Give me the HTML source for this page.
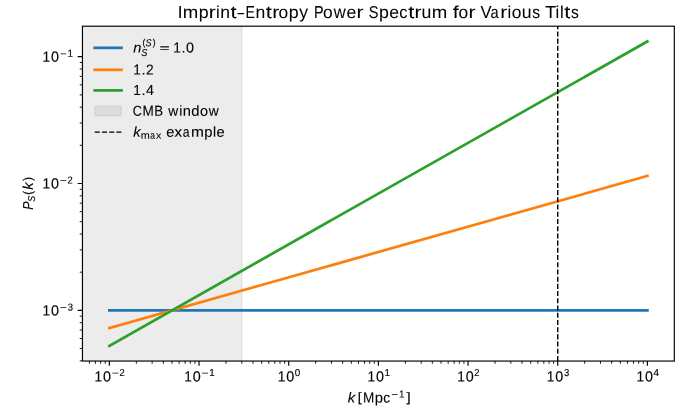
<!DOCTYPE html>
<html><head><meta charset="utf-8"><style>
html,body{margin:0;padding:0;background:#fff;}
svg{display:block;}
.t{opacity:0.999;}
text{font-family:"Liberation Sans", sans-serif;font-kerning:none;font-variant-ligatures:none;fill:#000;stroke:#000;white-space:pre;}
</style></head><body>
<svg width="698" height="419" viewBox="0 0 698 419">
<rect width="698" height="419" fill="#fff"/>
<g class="t">
<rect x="82.45" y="26.2" width="159.362" height="334.85" fill="#808080" fill-opacity="0.15"/>
<line x1="241.812" y1="26.2" x2="241.812" y2="361.05" stroke="#808080" stroke-opacity="0.15" stroke-width="1.361"/>
<line x1="109.352" y1="310.367" x2="647.398" y2="310.367" stroke="#1f77b4" stroke-width="2.722" stroke-linecap="square"/>
<line x1="109.352" y1="328.098" x2="647.398" y2="175.894" stroke="#ff7f0e" stroke-width="2.722" stroke-linecap="square"/>
<line x1="109.352" y1="345.83" x2="647.398" y2="41.42" stroke="#2ca02c" stroke-width="2.722" stroke-linecap="square"/>
<line x1="557.723" y1="361.05" x2="557.723" y2="26.2" stroke="#000" stroke-width="1.45" stroke-dasharray="5.036 2.178"/>
<path d="M109.352 361.05V365.814M199.027 361.05V365.814M288.701 361.05V365.814M378.375 361.05V365.814M468.049 361.05V365.814M557.723 361.05V365.814M647.398 361.05V365.814M82.45 310.367H77.686M82.45 183.53H77.686M82.45 56.693H77.686" stroke="#000" stroke-width="1.15" fill="none"/>
<path d="M89.458 361.05V363.772M95.462 361.05V363.772M100.662 361.05V363.772M105.249 361.05V363.772M136.347 361.05V363.772M152.138 361.05V363.772M163.342 361.05V363.772M172.032 361.05V363.772M179.132 361.05V363.772M185.136 361.05V363.772M190.336 361.05V363.772M194.923 361.05V363.772M226.021 361.05V363.772M241.812 361.05V363.772M253.016 361.05V363.772M261.706 361.05V363.772M268.807 361.05V363.772M274.81 361.05V363.772M280.01 361.05V363.772M284.597 361.05V363.772M315.695 361.05V363.772M331.486 361.05V363.772M342.69 361.05V363.772M351.38 361.05V363.772M358.481 361.05V363.772M364.484 361.05V363.772M369.685 361.05V363.772M374.272 361.05V363.772M405.37 361.05V363.772M421.16 361.05V363.772M432.364 361.05V363.772M441.055 361.05V363.772M448.155 361.05V363.772M454.159 361.05V363.772M459.359 361.05V363.772M463.946 361.05V363.772M495.044 361.05V363.772M510.835 361.05V363.772M522.039 361.05V363.772M530.729 361.05V363.772M537.829 361.05V363.772M543.833 361.05V363.772M549.033 361.05V363.772M553.62 361.05V363.772M584.718 361.05V363.772M600.509 361.05V363.772M611.713 361.05V363.772M620.403 361.05V363.772M627.504 361.05V363.772M633.507 361.05V363.772M638.707 361.05V363.772M643.294 361.05V363.772M82.45 360.841H79.728M82.45 348.549H79.728M82.45 338.506H79.728M82.45 330.015H79.728M82.45 322.659H79.728M82.45 316.171H79.728M82.45 272.186H79.728M82.45 249.851H79.728M82.45 234.004H79.728M82.45 221.712H79.728M82.45 211.669H79.728M82.45 203.178H79.728M82.45 195.822H79.728M82.45 189.334H79.728M82.45 145.349H79.728M82.45 123.014H79.728M82.45 107.167H79.728M82.45 94.875H79.728M82.45 84.832H79.728M82.45 76.34H79.728M82.45 68.985H79.728M82.45 62.497H79.728" stroke="#000" stroke-width="0.9" fill="none"/>
<rect x="82.45" y="26.2" width="591.85" height="334.85" fill="none" stroke="#000" stroke-width="1.17" stroke-linejoin="miter"/>
<g style="stroke-width:0.15px">
<text transform="translate(0,381.6) rotate(0.05,102.965,0)" font-size="14.855" font-style="normal"><tspan x="94.456" y="0.004" textLength="7.621" lengthAdjust="spacingAndGlyphs">1</tspan><tspan x="103.01" y="-0.004" textLength="7.98" lengthAdjust="spacingAndGlyphs">0</tspan></text>
<text transform="translate(111.641,376.623) rotate(0.05,3.609,0) scale(0.123,0.105)" font-size="100" font-style="normal" style="stroke-width:0px">−</text>
<text transform="translate(119.531,375.9) rotate(0.05,2.594,0) scale(0.924,1)" font-size="10.096" font-style="normal">2</text>
<text transform="translate(0,381.6) rotate(0.05,192.715,0)" font-size="14.855" font-style="normal"><tspan x="184.206" y="0.004" textLength="7.621" lengthAdjust="spacingAndGlyphs">1</tspan><tspan x="192.76" y="-0.004" textLength="7.98" lengthAdjust="spacingAndGlyphs">0</tspan></text>
<text transform="translate(201.391,376.623) rotate(0.05,3.609,0) scale(0.123,0.105)" font-size="100" font-style="normal" style="stroke-width:0px">−</text>
<text transform="translate(209.249,375.9) rotate(0.05,2.876,0) scale(0.976,1)" font-size="10.096" font-style="normal">1</text>
<text transform="translate(0,381.6) rotate(0.05,286.215,0)" font-size="14.855" font-style="normal"><tspan x="277.706" y="0.004" textLength="7.621" lengthAdjust="spacingAndGlyphs">1</tspan><tspan x="286.26" y="-0.004" textLength="7.98" lengthAdjust="spacingAndGlyphs">0</tspan></text>
<text transform="translate(294.862,375.9) rotate(0.05,2.763,0) scale(0.984,1)" font-size="10.096" font-style="normal">0</text>
<text transform="translate(0,381.6) rotate(0.05,375.965,0)" font-size="14.855" font-style="normal"><tspan x="367.456" y="0.004" textLength="7.621" lengthAdjust="spacingAndGlyphs">1</tspan><tspan x="376.01" y="-0.004" textLength="7.98" lengthAdjust="spacingAndGlyphs">0</tspan></text>
<text transform="translate(384.499,375.9) rotate(0.05,2.876,0) scale(0.976,1)" font-size="10.096" font-style="normal">1</text>
<text transform="translate(0,381.6) rotate(0.05,465.715,0)" font-size="14.855" font-style="normal"><tspan x="457.206" y="0.004" textLength="7.621" lengthAdjust="spacingAndGlyphs">1</tspan><tspan x="465.76" y="-0.004" textLength="7.98" lengthAdjust="spacingAndGlyphs">0</tspan></text>
<text transform="translate(474.281,375.9) rotate(0.05,2.594,0) scale(0.924,1)" font-size="10.096" font-style="normal">2</text>
<text transform="translate(0,381.6) rotate(0.05,555.215,0)" font-size="14.855" font-style="normal"><tspan x="546.706" y="0.004" textLength="7.621" lengthAdjust="spacingAndGlyphs">1</tspan><tspan x="555.26" y="-0.004" textLength="7.98" lengthAdjust="spacingAndGlyphs">0</tspan></text>
<text transform="translate(563.889,375.9) rotate(0.05,2.611,0) scale(0.94,1)" font-size="10.096" font-style="normal">3</text>
<text transform="translate(0,381.6) rotate(0.05,644.965,0)" font-size="14.855" font-style="normal"><tspan x="636.456" y="0.004" textLength="7.621" lengthAdjust="spacingAndGlyphs">1</tspan><tspan x="645.01" y="-0.004" textLength="7.98" lengthAdjust="spacingAndGlyphs">0</tspan></text>
<text transform="translate(653.522,375.9) rotate(0.05,2.728,0) scale(0.983,1)" font-size="10.096" font-style="normal">4</text>
<text transform="translate(0,61.75) rotate(0.05,50.965,0)" font-size="14.855" font-style="normal"><tspan x="42.456" y="0.004" textLength="7.621" lengthAdjust="spacingAndGlyphs">1</tspan><tspan x="51.01" y="-0.004" textLength="7.98" lengthAdjust="spacingAndGlyphs">0</tspan></text>
<text transform="translate(59.641,57.373) rotate(0.05,3.609,0) scale(0.123,0.105)" font-size="100" font-style="normal" style="stroke-width:0px">−</text>
<text transform="translate(67.499,56.75) rotate(0.05,2.876,0) scale(0.976,1)" font-size="10.096" font-style="normal">1</text>
<text transform="translate(0,188.5) rotate(0.05,50.965,0)" font-size="14.855" font-style="normal"><tspan x="42.456" y="0.004" textLength="7.621" lengthAdjust="spacingAndGlyphs">1</tspan><tspan x="51.01" y="-0.004" textLength="7.98" lengthAdjust="spacingAndGlyphs">0</tspan></text>
<text transform="translate(59.641,184.123) rotate(0.05,3.609,0) scale(0.123,0.105)" font-size="100" font-style="normal" style="stroke-width:0px">−</text>
<text transform="translate(67.531,183.5) rotate(0.05,2.594,0) scale(0.924,1)" font-size="10.096" font-style="normal">2</text>
<text transform="translate(0,315.5) rotate(0.05,50.965,0)" font-size="14.855" font-style="normal"><tspan x="42.456" y="0.004" textLength="7.621" lengthAdjust="spacingAndGlyphs">1</tspan><tspan x="51.01" y="-0.004" textLength="7.98" lengthAdjust="spacingAndGlyphs">0</tspan></text>
<text transform="translate(59.641,311.123) rotate(0.05,3.609,0) scale(0.123,0.105)" font-size="100" font-style="normal" style="stroke-width:0px">−</text>
<text transform="translate(67.639,310.5) rotate(0.05,2.611,0) scale(0.94,1)" font-size="10.096" font-style="normal">3</text>
</g>
<g style="stroke-width:0.1px">
<text transform="translate(347.755,402.4) rotate(0.05,4.12,0) scale(1.023,1)" font-size="14.422" font-style="italic">k</text>
<text transform="translate(357.764,401.478) rotate(0.05,2.361,0) scale(0.138,0.129)" font-size="100" font-style="normal" style="stroke-width:1.348px">[</text>
<text transform="translate(0,402.4) rotate(0.05,376.854,0)" font-size="14.422" font-style="normal"><tspan x="362.887" y="0.007" textLength="11.305" lengthAdjust="spacingAndGlyphs">M</tspan><tspan x="374.701" y="-0.002" textLength="8.236" lengthAdjust="spacingAndGlyphs">p</tspan><tspan x="383.239" y="-0.009" textLength="6.829" lengthAdjust="spacingAndGlyphs">c</tspan></text>
<text transform="translate(391.141,398.023) rotate(0.05,3.609,0) scale(0.123,0.105)" font-size="100" font-style="normal" style="stroke-width:0px">−</text>
<text transform="translate(398.999,397.4) rotate(0.05,2.876,0) scale(0.976,1)" font-size="10.096" font-style="normal">1</text>
<text transform="translate(406.382,401.478) rotate(0.05,1.618,0) scale(0.151,0.129)" font-size="100" font-style="normal" style="stroke-width:1.287px">]</text>
<g transform="rotate(-90)">
<text transform="translate(-209.681,33) rotate(0.05,4.281,0) scale(0.859,1)" font-size="14.422" font-style="italic">P</text>
<text transform="translate(-201.853,35) rotate(0.05,3.053,0) scale(0.883,1)" font-size="10.096" font-style="italic">S</text>
<text transform="translate(-194.702,31.889) rotate(0.05,2.202,0) scale(0.113,0.126)" font-size="100" font-style="normal" style="stroke-width:1.505px">(</text>
<text transform="translate(-189.745,33) rotate(0.05,4.12,0) scale(1.023,1)" font-size="14.422" font-style="italic">k</text>
<text transform="translate(-180.816,31.889) rotate(0.05,1.566,0) scale(0.113,0.126)" font-size="100" font-style="normal" style="stroke-width:1.505px">)</text>
</g>
</g>
<g style="stroke-width:0.05px">
<text transform="translate(0,18) rotate(0.05,378.754,0)" font-size="17.307" font-style="normal"><tspan x="177.656" y="0.173" textLength="4.799" lengthAdjust="spacingAndGlyphs">I</tspan><tspan x="182.715" y="0.164" textLength="15.502" lengthAdjust="spacingAndGlyphs">m</tspan><tspan x="198.726" y="0.153" textLength="9.883" lengthAdjust="spacingAndGlyphs">p</tspan><tspan x="208.856" y="0.145" textLength="6.969" lengthAdjust="spacingAndGlyphs">r</tspan><tspan x="215.904" y="0.14" textLength="3.709" lengthAdjust="spacingAndGlyphs">i</tspan><tspan x="220.337" y="0.134" textLength="9.794" lengthAdjust="spacingAndGlyphs">n</tspan><tspan x="230.489" y="0.127" textLength="6.065" lengthAdjust="spacingAndGlyphs">t</tspan><tspan x="237.587" y="0.12" textLength="6.577" lengthAdjust="spacingAndGlyphs">–</tspan><tspan x="245.403" y="0.112" textLength="9.442" lengthAdjust="spacingAndGlyphs">E</tspan><tspan x="255.602" y="0.103" textLength="9.794" lengthAdjust="spacingAndGlyphs">n</tspan><tspan x="265.754" y="0.096" textLength="6.065" lengthAdjust="spacingAndGlyphs">t</tspan><tspan x="272.148" y="0.09" textLength="6.969" lengthAdjust="spacingAndGlyphs">r</tspan><tspan x="278.602" y="0.083" textLength="9.657" lengthAdjust="spacingAndGlyphs">o</tspan><tspan x="288.768" y="0.074" textLength="9.883" lengthAdjust="spacingAndGlyphs">p</tspan><tspan x="299.248" y="0.066" textLength="8.77" lengthAdjust="spacingAndGlyphs">y</tspan><tspan x="308.476" y="0.061"> </tspan><tspan x="314.089" y="0.052" textLength="9.635" lengthAdjust="spacingAndGlyphs">P</tspan><tspan x="323.105" y="0.044" textLength="9.657" lengthAdjust="spacingAndGlyphs">o</tspan><tspan x="333.643" y="0.034" textLength="11.922" lengthAdjust="spacingAndGlyphs">w</tspan><tspan x="346.452" y="0.024" textLength="9.812" lengthAdjust="spacingAndGlyphs">e</tspan><tspan x="356.449" y="0.016" textLength="6.969" lengthAdjust="spacingAndGlyphs">r</tspan><tspan x="363.075" y="0.014"> </tspan><tspan x="368.685" y="0.005" textLength="9.711" lengthAdjust="spacingAndGlyphs">S</tspan><tspan x="378.982" y="-0.005" textLength="9.883" lengthAdjust="spacingAndGlyphs">p</tspan><tspan x="389.17" y="-0.013" textLength="9.812" lengthAdjust="spacingAndGlyphs">e</tspan><tspan x="399.279" y="-0.022" textLength="8.194" lengthAdjust="spacingAndGlyphs">c</tspan><tspan x="408.168" y="-0.028" textLength="6.065" lengthAdjust="spacingAndGlyphs">t</tspan><tspan x="414.562" y="-0.035" textLength="6.969" lengthAdjust="spacingAndGlyphs">r</tspan><tspan x="421.431" y="-0.042" textLength="9.794" lengthAdjust="spacingAndGlyphs">u</tspan><tspan x="431.793" y="-0.053" textLength="15.502" lengthAdjust="spacingAndGlyphs">m</tspan><tspan x="447.467" y="-0.06"> </tspan><tspan x="452.733" y="-0.067" textLength="5.959" lengthAdjust="spacingAndGlyphs">f</tspan><tspan x="458.588" y="-0.074" textLength="9.657" lengthAdjust="spacingAndGlyphs">o</tspan><tspan x="468.509" y="-0.082" textLength="6.969" lengthAdjust="spacingAndGlyphs">r</tspan><tspan x="475.135" y="-0.084"> </tspan><tspan x="480.385" y="-0.094" textLength="11.056" lengthAdjust="spacingAndGlyphs">V</tspan><tspan x="490.586" y="-0.101" textLength="8.169" lengthAdjust="spacingAndGlyphs">a</tspan><tspan x="500.338" y="-0.11" textLength="6.969" lengthAdjust="spacingAndGlyphs">r</tspan><tspan x="507.386" y="-0.114" textLength="3.709" lengthAdjust="spacingAndGlyphs">i</tspan><tspan x="511.677" y="-0.12" textLength="9.657" lengthAdjust="spacingAndGlyphs">o</tspan><tspan x="521.748" y="-0.129" textLength="9.794" lengthAdjust="spacingAndGlyphs">u</tspan><tspan x="532.312" y="-0.137" textLength="7.828" lengthAdjust="spacingAndGlyphs">s</tspan><tspan x="540.377" y="-0.141"> </tspan><tspan x="545.125" y="-0.15" textLength="10.882" lengthAdjust="spacingAndGlyphs">T</tspan><tspan x="555.478" y="-0.156" textLength="3.709" lengthAdjust="spacingAndGlyphs">i</tspan><tspan x="560.011" y="-0.16" textLength="3.709" lengthAdjust="spacingAndGlyphs">l</tspan><tspan x="564.246" y="-0.165" textLength="6.065" lengthAdjust="spacingAndGlyphs">t</tspan><tspan x="570.995" y="-0.171" textLength="7.828" lengthAdjust="spacingAndGlyphs">s</tspan></text>
</g>
<line x1="94.75" y1="47.86" x2="121.5" y2="47.86" stroke="#1f77b4" stroke-width="2.722" stroke-linecap="square"/>
<line x1="94.75" y1="69.8" x2="121.5" y2="69.8" stroke="#ff7f0e" stroke-width="2.722" stroke-linecap="square"/>
<line x1="94.75" y1="90.4" x2="121.5" y2="90.4" stroke="#2ca02c" stroke-width="2.722" stroke-linecap="square"/>
<rect x="94.9" y="106.25" width="26.3" height="9.5" fill="#808080" fill-opacity="0.15" stroke="#808080" stroke-opacity="0.15" stroke-width="1.361"/>
<line x1="94.75" y1="132.1" x2="121.5" y2="132.1" stroke="#000" stroke-width="1.361" stroke-dasharray="5.036 2.178"/>
<g style="stroke-width:0.1px">
<text transform="translate(133.256,52.5) rotate(0.05,3.869,0) scale(1.017,1)" font-size="14.422" font-style="italic">n</text>
<text transform="translate(142.474,45.611) rotate(0.05,1.651,0) scale(0.085,0.091)" font-size="100" font-style="normal" style="stroke-width:2.044px">(</text>
<text transform="translate(145.491,46.2) rotate(0.05,3.134,0) scale(0.907,1)" font-size="10.096" font-style="italic">S</text>
<text transform="translate(152.7,45.611) rotate(0.05,1.175,0) scale(0.085,0.091)" font-size="100" font-style="normal" style="stroke-width:2.044px">)</text>
<text transform="translate(141.241,56.1) rotate(0.05,3.134,0) scale(0.907,1)" font-size="10.096" font-style="italic">S</text>
<text transform="translate(159.396,51.955) rotate(0.05,5.104,0) scale(0.175,0.116)" font-size="100" font-style="normal" style="stroke-width:0.687px">=</text>
<text transform="translate(0,52.5) rotate(0.05,183.88,0)" font-size="14.422" font-style="normal"><tspan x="173.206" y="0.006" textLength="7.621" lengthAdjust="spacingAndGlyphs">1</tspan><tspan x="181.534" y="0" textLength="4.092" lengthAdjust="spacingAndGlyphs">.</tspan><tspan x="186.091" y="-0.005" textLength="7.98" lengthAdjust="spacingAndGlyphs">0</tspan></text>
<text transform="translate(0,74.5) rotate(0.05,143.651,0)" font-size="14.422" font-style="normal"><tspan x="133.206" y="0.006" textLength="7.621" lengthAdjust="spacingAndGlyphs">1</tspan><tspan x="141.534" y="0" textLength="4.092" lengthAdjust="spacingAndGlyphs">.</tspan><tspan x="146.056" y="-0.005" textLength="7.692" lengthAdjust="spacingAndGlyphs">2</tspan></text>
<text transform="translate(0,95) rotate(0.05,143.95,0)" font-size="14.422" font-style="normal"><tspan x="133.206" y="0.006" textLength="7.621" lengthAdjust="spacingAndGlyphs">1</tspan><tspan x="141.534" y="0" textLength="4.092" lengthAdjust="spacingAndGlyphs">.</tspan><tspan x="146.09" y="-0.005" textLength="7.981" lengthAdjust="spacingAndGlyphs">4</tspan></text>
<text transform="translate(0,115.75) rotate(0.05,176.146,0)" font-size="14.422" font-style="normal"><tspan x="132.858" y="0.034" textLength="9.125" lengthAdjust="spacingAndGlyphs">C</tspan><tspan x="142.472" y="0.024" textLength="11.305" lengthAdjust="spacingAndGlyphs">M</tspan><tspan x="154.256" y="0.015" textLength="8.82" lengthAdjust="spacingAndGlyphs">B</tspan><tspan x="163.352" y="0.011"> </tspan><tspan x="168.275" y="0.003" textLength="9.935" lengthAdjust="spacingAndGlyphs">w</tspan><tspan x="179.178" y="-0.004" textLength="3.091" lengthAdjust="spacingAndGlyphs">i</tspan><tspan x="182.874" y="-0.009" textLength="8.162" lengthAdjust="spacingAndGlyphs">n</tspan><tspan x="191.377" y="-0.017" textLength="8.227" lengthAdjust="spacingAndGlyphs">d</tspan><tspan x="200.039" y="-0.024" textLength="8.047" lengthAdjust="spacingAndGlyphs">o</tspan><tspan x="208.824" y="-0.033" textLength="9.935" lengthAdjust="spacingAndGlyphs">w</tspan></text>
<text transform="translate(133.255,136.75) rotate(0.05,4.12,0) scale(1.023,1)" font-size="14.422" font-style="italic">k</text>
<text transform="translate(0,138.75) rotate(0.05,151.293,0)" font-size="10.096" font-style="normal"><tspan x="140.779" y="0.005" textLength="9.043" lengthAdjust="spacingAndGlyphs">m</tspan><tspan x="150.128" y="-0.001" textLength="4.765" lengthAdjust="spacingAndGlyphs">a</tspan><tspan x="155.916" y="-0.006" textLength="5.285" lengthAdjust="spacingAndGlyphs">x</tspan></text>
<text transform="translate(0,136.75) rotate(0.05,195.575,0)" font-size="14.422" font-style="normal"><tspan x="166.375" y="0.022" textLength="8.176" lengthAdjust="spacingAndGlyphs">e</tspan><tspan x="174.604" y="0.015" textLength="7.549" lengthAdjust="spacingAndGlyphs">x</tspan><tspan x="182.742" y="0.008" textLength="6.807" lengthAdjust="spacingAndGlyphs">a</tspan><tspan x="191" y="-0.002" textLength="12.918" lengthAdjust="spacingAndGlyphs">m</tspan><tspan x="204.348" y="-0.011" textLength="8.236" lengthAdjust="spacingAndGlyphs">p</tspan><tspan x="213.06" y="-0.017" textLength="3.091" lengthAdjust="spacingAndGlyphs">l</tspan><tspan x="216.627" y="-0.022" textLength="8.176" lengthAdjust="spacingAndGlyphs">e</tspan></text>
</g>
</g>
</svg>
</body></html>
